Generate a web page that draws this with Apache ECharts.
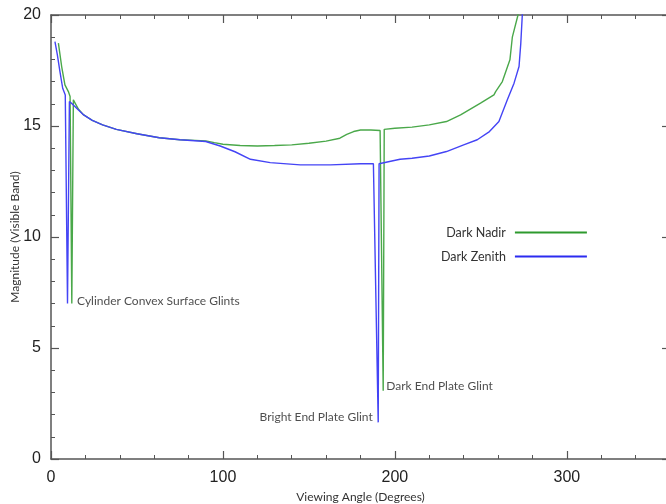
<!DOCTYPE html>
<html>
<head>
<meta charset="utf-8">
<script src="https://cdn.jsdelivr.net/npm/echarts@6/dist/echarts.min.js"></script>
<style>
  html, body { margin: 0; padding: 0; background: #fff; }
  #main { width: 666px; height: 504px; }
</style>
</head>
<body>
<div id="main"></div>
<script>
// Dark Nadir (green) : [viewing angle, magnitude]
const darkNadir = [
  [4.3, 18.73], [6.2, 17.68], [8.1, 16.85], [10.1, 16.55], [11.1, 16.33],
  [12.1, 7.0], [13.0, 16.18], [16, 15.75], [19, 15.5], [24, 15.25],
  [30, 15.05], [38, 14.85], [50, 14.65], [63, 14.47], [75, 14.38],
  [90, 14.33], [95, 14.25], [100, 14.18], [110, 14.12], [120, 14.1],
  [130, 14.12], [140, 14.15], [150, 14.22], [160, 14.32], [168, 14.45],
  [172, 14.62], [176, 14.75], [180, 14.82], [186, 14.82], [191.4, 14.8],
  [193.2, 3.07], [193.8, 14.85], [200, 14.9], [210, 14.95], [220, 15.05],
  [230, 15.2], [238.2, 15.5], [249.8, 16.03], [257.6, 16.4], [258.6, 16.55],
  [262.5, 17.0], [266.9, 17.98], [268.3, 19.0], [271.6, 20.0], [273, 20.6]
];

// Dark Zenith (blue)
const darkZenith = [
  [2.3, 18.8], [3.7, 18.2], [5.2, 17.45], [6.8, 16.7], [8.3, 16.4],
  [9.6, 7.0], [10.7, 16.1], [13, 15.95], [16, 15.72], [19, 15.5],
  [24, 15.25], [30, 15.05], [38, 14.85], [50, 14.65], [63, 14.47],
  [75, 14.38], [90, 14.3], [98.4, 14.1], [107, 13.84], [116, 13.5],
  [127.5, 13.35], [145, 13.25], [162.5, 13.25], [180, 13.3], [187.5, 13.3],
  [190.3, 1.65], [190.8, 13.3], [203, 13.5], [210, 13.55], [220, 13.65],
  [230, 13.85], [240, 14.15], [247.9, 14.38], [255, 14.75], [260.5, 15.2],
  [265.4, 16.18], [269.3, 16.93], [272.2, 17.68], [273.2, 18.7], [274.1, 20.0],
  [274.5, 20.6]
];

// annotation anchors [x, y, text, side]
const notes = [
  [14.0, 7.1, 'Cylinder Convex Surface Glints', 'right'],
  [193.8, 3.3, 'Dark End Plate Glint', 'right'],
  [188.3, 1.9, 'Bright End Plate Glint', 'left']
];

const xTicks = { min: 0, max: 360, interval: 100 };
const yTicks = { min: 0, max: 20, interval: 5 };

const axisColor = '#555';
const textFont = 'Lato, "Open Sans", sans-serif';

const chart = echarts.init(document.getElementById('main'));

// all four frame sides share this look; onZero off so the mirror axes stay on their own side
function baseAxis(extra) {
  return Object.assign({
    type: 'value',
    axisLine: { show: true, onZero: false, lineStyle: { color: axisColor, width: 1.5 } },
    axisTick: { show: true, inside: true, length: 8, lineStyle: { color: axisColor, width: 1.2 } },
    minorTick: { show: true, splitNumber: 5, length: 4, lineStyle: { color: axisColor, width: 1 } },
    splitLine: { show: false },
    minorSplitLine: { show: false }
  }, extra);
}

chart.setOption({
  animation: false,
  backgroundColor: '#fff',
  grid: { left: 51, top: 15, right: -4, bottom: 45, containLabel: false, outerBoundsMode: 'none' },
  legend: {
    data: ['Dark Nadir', 'Dark Zenith'],
    orient: 'vertical',
    left: 436,
    top: 221,
    align: 'right',
    itemWidth: 72,
    itemHeight: 2,
    itemGap: 11,
    icon: 'rect',
    textStyle: { fontFamily: textFont, fontSize: 12.5, color: '#333', padding: [0, 4, 0, 0] }
  },
  xAxis: [
    baseAxis({
      min: xTicks.min, max: xTicks.max, interval: xTicks.interval,
      name: 'Viewing Angle (Degrees)', nameLocation: 'middle', nameGap: 31,
      nameTextStyle: { fontFamily: textFont, fontSize: 12, color: '#333' },
      axisLabel: { showMaxLabel: false, margin: 11, fontFamily: 'Liberation Sans, Arial, sans-serif', fontSize: 16, color: '#222' }
    }),
    baseAxis({
      position: 'top', min: xTicks.min, max: xTicks.max, interval: xTicks.interval,
      axisLabel: { show: false }
    })
  ],
  yAxis: [
    baseAxis({
      min: yTicks.min, max: yTicks.max, interval: yTicks.interval,
      name: 'Magnitude (Visible Band)', nameLocation: 'middle', nameGap: 30,
      nameMoveOverlap: false,
      nameTextStyle: { fontFamily: textFont, fontSize: 12, color: '#333' },
      axisLabel: { margin: 10, fontFamily: 'Liberation Sans, Arial, sans-serif', fontSize: 16, color: '#222' }
    }),
    baseAxis({
      position: 'right', min: yTicks.min, max: yTicks.max, interval: yTicks.interval,
      axisLine: { show: false, onZero: false },
      axisLabel: { show: false }
    })
  ],
  series: [
    {
      name: 'Dark Nadir', type: 'line', data: darkNadir,
      showSymbol: false, clip: true, z: 2,
      color: '#2e9a2e',
      lineStyle: { color: '#4aa84a', width: 1.4 }
    },
    {
      name: 'Dark Zenith', type: 'line', data: darkZenith,
      showSymbol: false, clip: true, z: 3,
      color: '#2b2bf0',
      lineStyle: { color: '#4444f5', width: 1.4 }
    },
    {
      name: 'notes', type: 'scatter', symbolSize: 0, silent: true,
      data: notes.map(n => ({
        value: [n[0], n[1]], name: n[2],
        label: { position: n[3] }
      })),
      label: {
        show: true, formatter: p => p.name, distance: 2,
        fontFamily: textFont, fontSize: 12, color: '#222'
      }
    }
  ]
});
</script>
</body>
</html>
